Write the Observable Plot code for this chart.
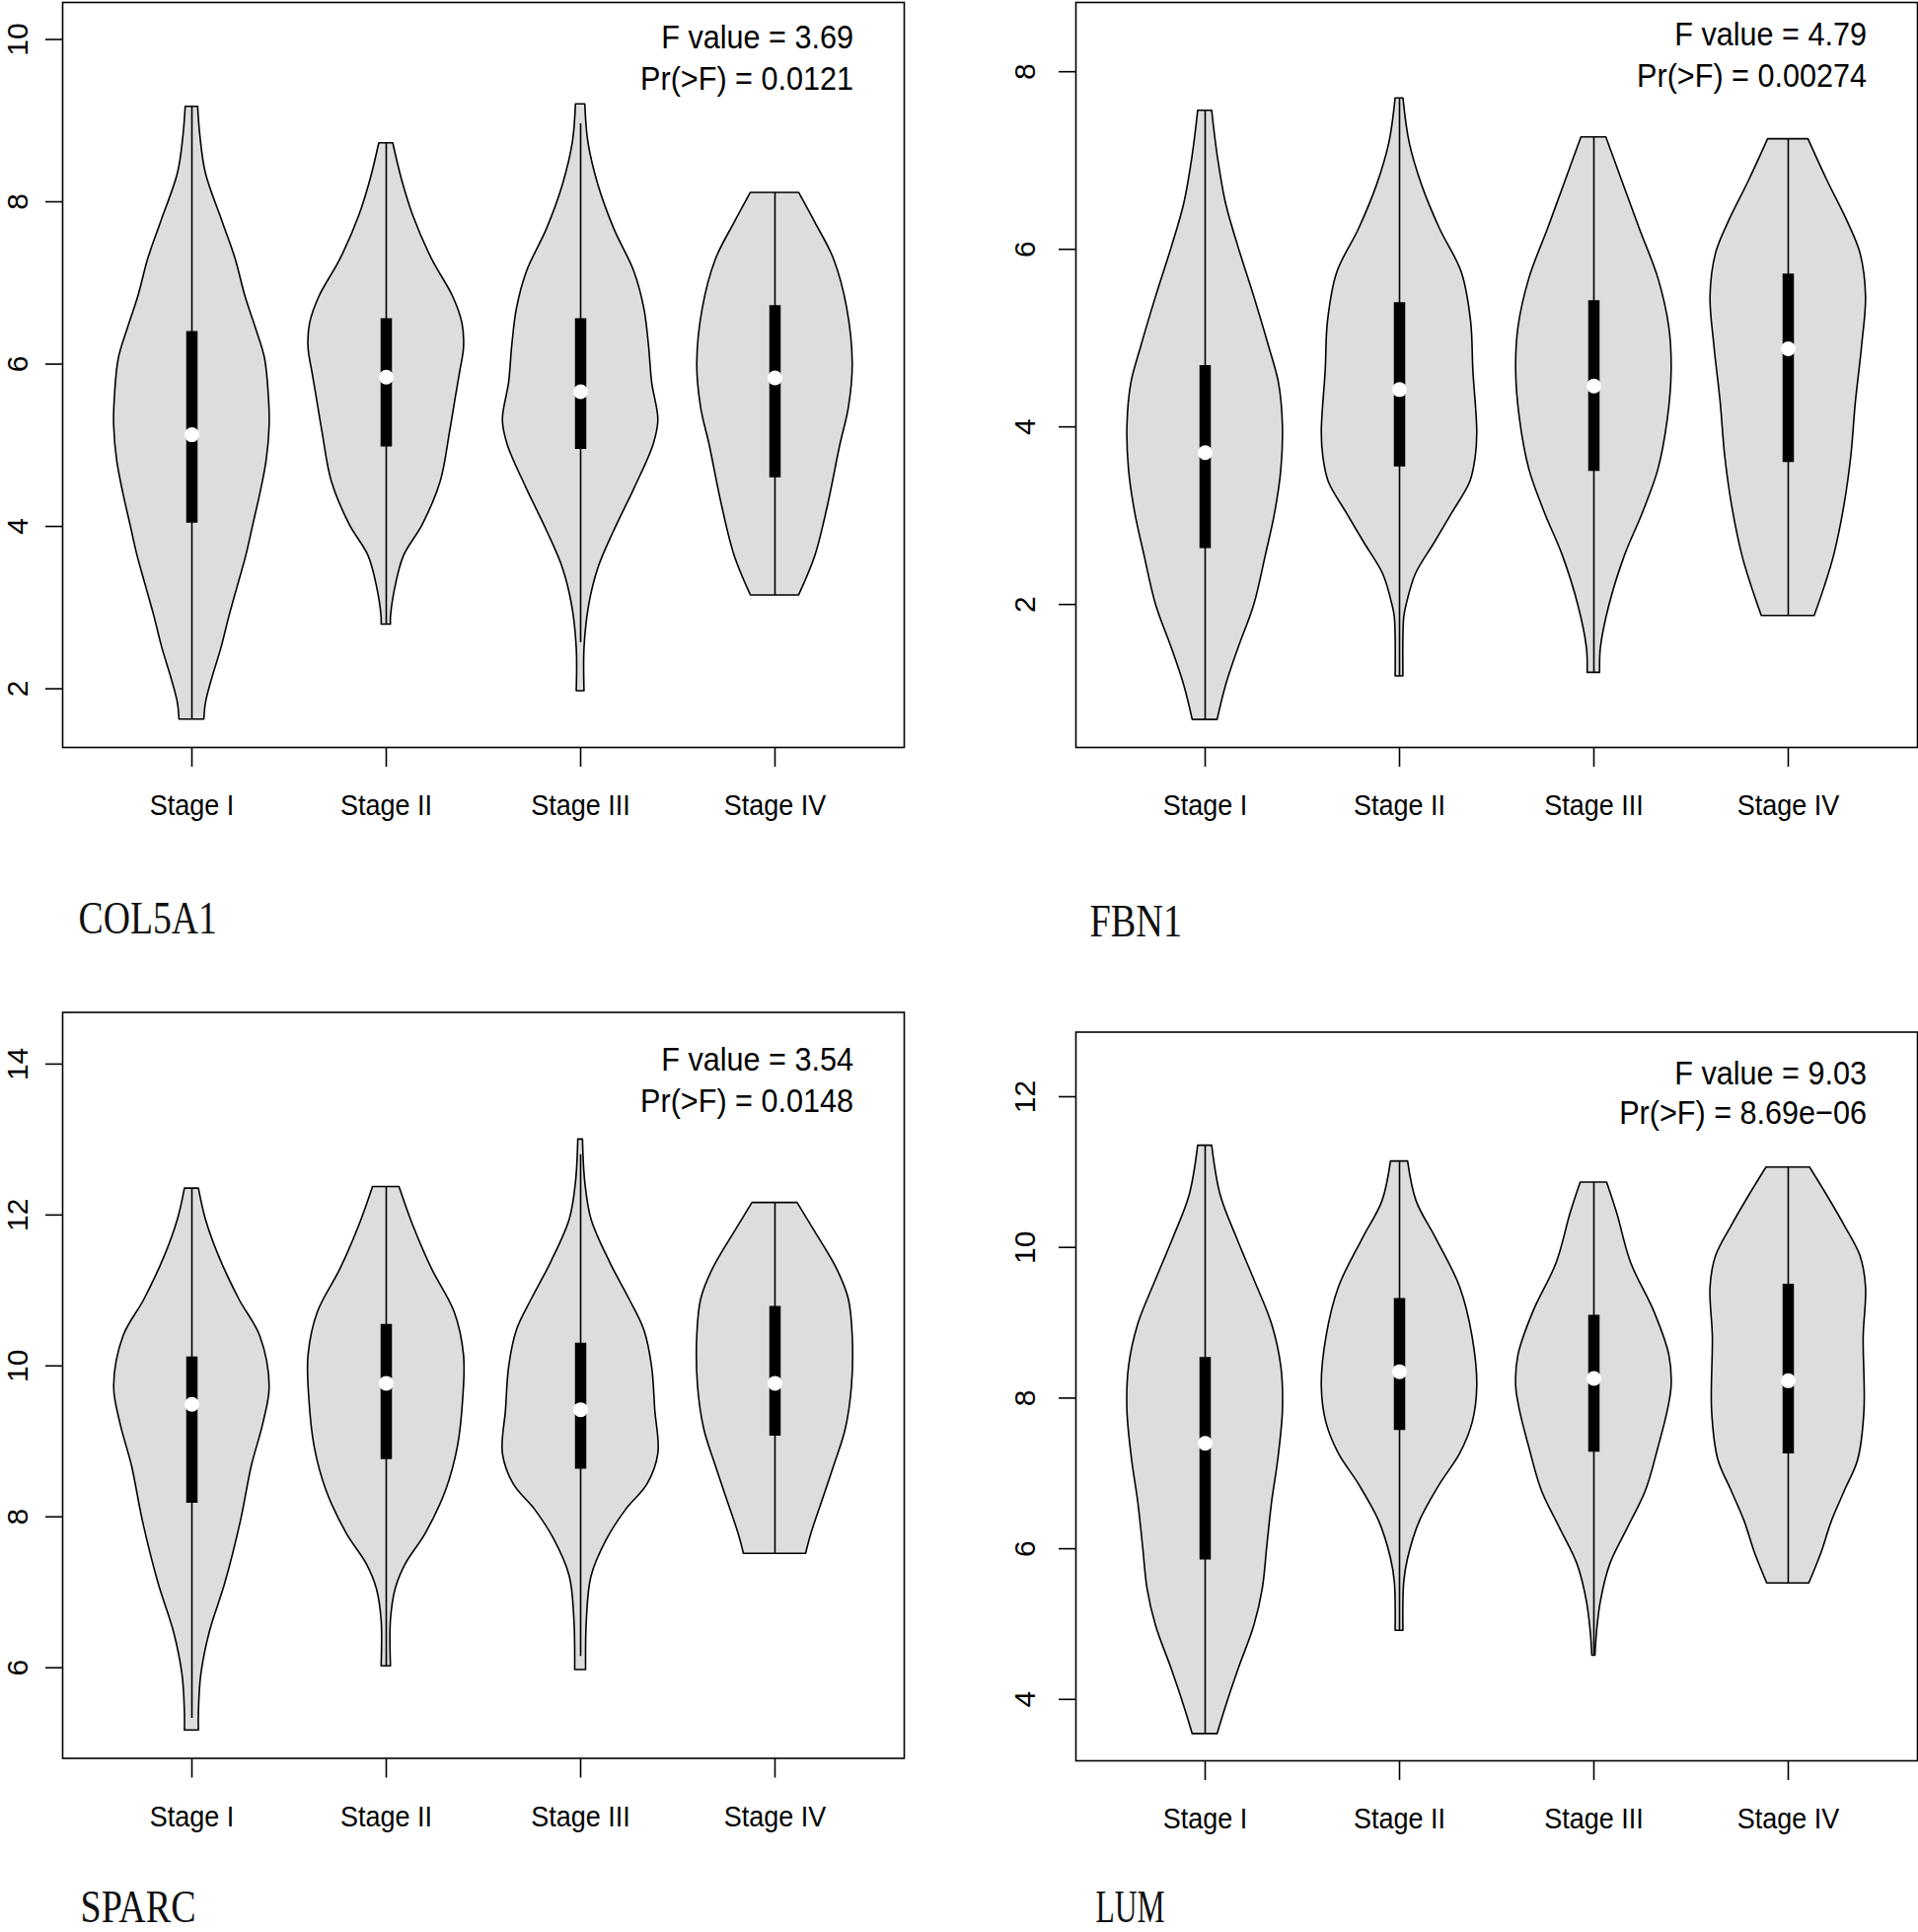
<!DOCTYPE html>
<html><head><meta charset="utf-8">
<script src="https://cdn.jsdelivr.net/npm/d3@7"></script>
<script src="https://cdn.jsdelivr.net/npm/@observablehq/plot@0.6"></script>
<style>
html,body{margin:0;padding:0;background:#fff;}
#grid{position:relative;width:1944px;height:1958px;overflow:hidden;background:#fff;}
.panel{position:absolute;width:972px;height:979px;}
</style></head><body><div id="grid"></div>
<script>
// ---------- data ----------
const stages = ["Stage I", "Stage II", "Stage III", "Stage IV"];
const genes = ["COL5A1", "FBN1", "SPARC", "LUM"];
const fValues = ["3.69", "4.79", "3.54", "9.03"];
const pValues = ["0.0121", "0.00274", "0.0148", "8.69e\u221206"];
const xLimits = [0.335, 4.665];

// y-axis limits and ticks per gene
const col5a1Limits = [1.277, 10.456];
const fbn1Limits = [0.39, 8.78];
const sparcLimits = [4.80, 14.685];
const lumLimits = [3.185, 12.858];
const col5a1Ticks = [2, 4, 6, 8, 10];
const fbn1Ticks = [2, 4, 6, 8];
const sparcTicks = [6, 8, 10, 12, 14];
const lumTicks = [4, 6, 8, 10, 12];

// violin profiles: [expression value, relative density (max = 1)] per stage
const col5a1Violin = [
  [[9.17,0.08],[8.8,0.11],[8.35,0.18],[7.74,0.40],[7.3,0.56],[6.83,0.69],[6.45,0.82],[6.07,0.94],[5.6,0.99],[5.24,1.0],[4.8,0.96],[4.4,0.88],[4.02,0.79],[3.64,0.70],[3.26,0.59],[2.88,0.48],[2.5,0.38],[2.12,0.26],[1.82,0.18],[1.62,0.16]],
  [[8.72,0.09],[8.28,0.20],[7.82,0.35],[7.29,0.59],[6.83,0.86],[6.5,0.98],[6.2,1.0],[5.9,0.95],[5.62,0.90],[5.16,0.82],[4.55,0.70],[4.02,0.47],[3.64,0.23],[3.26,0.12],[2.88,0.06],[2.79,0.06]],
  [[9.20,0.06],[8.73,0.10],[8.20,0.23],[7.67,0.43],[7.14,0.69],[6.68,0.82],[6.22,0.88],[5.77,0.92],[5.31,1.0],[5.01,0.94],[4.48,0.70],[3.94,0.43],[3.49,0.23],[3.03,0.11],[2.50,0.05],[1.97,0.05]],
  [[8.11,0.31],[7.74,0.52],[7.29,0.76],[6.68,0.93],[6.0,1.0],[5.46,0.95],[5.0,0.84],[4.25,0.68],[3.64,0.52],[3.15,0.31]]
];
const fbn1Violin = [
  [[7.56,0.09],[7.06,0.16],[6.51,0.27],[6.02,0.43],[5.47,0.63],[4.91,0.82],[4.49,0.95],[4.01,1.0],[3.52,0.98],[3.03,0.90],[2.55,0.78],[1.99,0.63],[1.51,0.43],[1.09,0.27],[0.70,0.16]],
  [[7.70,0.05],[7.20,0.13],[6.72,0.29],[6.23,0.52],[5.74,0.80],[5.19,0.92],[4.63,0.95],[3.94,1.0],[3.66,0.98],[3.38,0.91],[3.03,0.68],[2.69,0.45],[2.34,0.21],[1.99,0.09],[1.85,0.06],[1.19,0.05]],
  [[7.26,0.16],[6.78,0.36],[6.23,0.59],[5.67,0.83],[5.12,0.97],[4.63,1.0],[4.08,0.95],[3.52,0.83],[3.03,0.63],[2.55,0.40],[1.99,0.20],[1.51,0.09],[1.23,0.08]],
  [[7.24,0.26],[6.78,0.50],[6.30,0.77],[5.95,0.93],[5.47,1.0],[4.91,0.95],[4.28,0.87],[3.66,0.81],[3.10,0.72],[2.55,0.59],[2.20,0.47],[1.87,0.34]]
];
const sparcViolin = [
  [[12.35,0.09],[11.94,0.18],[11.45,0.35],[10.88,0.61],[10.39,0.88],[9.73,1.0],[9.24,0.92],[8.67,0.77],[7.94,0.63],[7.12,0.43],[6.47,0.23],[5.90,0.12],[5.4,0.09],[5.17,0.09]],
  [[12.37,0.17],[11.85,0.35],[11.28,0.59],[10.71,0.88],[10.14,1.0],[9.57,0.99],[8.92,0.92],[8.35,0.77],[7.78,0.51],[7.37,0.25],[7.04,0.12],[6.63,0.06],[6.02,0.06]],
  [[13.0,0.03],[12.43,0.06],[11.94,0.14],[11.37,0.38],[10.88,0.63],[10.47,0.82],[9.98,0.92],[9.41,0.96],[8.84,1.0],[8.43,0.86],[8.10,0.59],[7.70,0.34],[7.21,0.14],[6.63,0.08],[5.97,0.07]],
  [[12.16,0.29],[11.77,0.52],[11.28,0.80],[10.88,0.95],[10.39,1.0],[9.73,0.99],[9.16,0.91],[8.67,0.76],[8.18,0.60],[7.78,0.47],[7.51,0.40]]
];
const lumViolin = [
  [[11.35,0.09],[10.69,0.20],[10.12,0.41],[9.55,0.64],[8.98,0.86],[8.41,0.98],[7.83,1.0],[7.18,0.94],[6.61,0.86],[6.04,0.80],[5.46,0.74],[4.97,0.63],[4.40,0.43],[3.91,0.27],[3.54,0.16]],
  [[11.14,0.11],[10.61,0.22],[10.12,0.47],[9.47,0.78],[8.81,0.94],[8.16,1.0],[7.67,0.94],[7.26,0.78],[6.85,0.52],[6.36,0.26],[5.87,0.11],[5.55,0.06],[4.91,0.05]],
  [[10.86,0.17],[10.45,0.30],[9.79,0.48],[9.14,0.78],[8.57,0.97],[8.16,1.0],[7.83,0.95],[7.34,0.83],[6.77,0.67],[6.28,0.44],[5.79,0.21],[5.30,0.09],[4.89,0.04],[4.58,0.02]],
  [[11.06,0.28],[10.69,0.50],[10.28,0.73],[9.88,0.93],[9.47,1.0],[8.81,0.97],[7.83,0.98],[7.18,0.90],[6.77,0.73],[6.36,0.56],[5.95,0.43],[5.54,0.27]]
];

// box summaries per stage: [Q1, median, Q3, whisker low, whisker high]
const col5a1Box = [[4.04,5.13,6.40,1.62,9.17],[4.98,5.84,6.56,2.79,8.72],[4.95,5.66,6.56,2.57,8.96],[4.60,5.83,6.72,3.15,8.11]];
const fbn1Box = [[2.63,3.71,4.69,0.70,7.56],[3.55,4.42,5.40,1.19,7.70],[3.50,4.46,5.42,1.23,7.26],[3.60,4.88,5.72,1.87,7.24]];
const sparcBox = [[8.18,9.49,10.12,5.33,12.35],[8.76,9.77,10.55,6.02,12.37],[8.63,9.42,10.30,6.15,12.8],[9.07,9.77,10.79,7.51,12.16]];
const lumBox = [[5.85,7.40,8.54,3.54,11.35],[7.57,8.35,9.32,4.91,11.14],[7.28,8.26,9.10,4.58,10.86],[7.26,8.23,9.51,5.54,11.06]];

// ---------- layout (styles / positions only) ----------
const layouts = [
  {left: 0,   top: 0,   ml: 63,  mr: 56, mt: 2,    mb: 222,   f1: 35.6, f2: 78.1, gx: 16, gy: 174, yl: -45},
  {left: 972, top: 0,   ml: 118, mr: 1,  mt: 2,    mb: 222,   f1: 32.5, f2: 74.4, gx: 14, gy: 177, yl: -51},
  {left: 0,   top: 979, ml: 63,  mr: 56, mt: 46.5, mb: 176.5, f1: 48,   f2: 90,   gx: 18, gy: 151, yl: -45},
  {left: 972, top: 979, ml: 118, mr: 1,  mt: 66.5, mb: 174,   f1: 42,   f2: 82.3, gx: 20, gy: 148.5, yl: -51}
];

const panels = [
  {gene: genes[0], f: fValues[0], p: pValues[0], limits: col5a1Limits, ticks: col5a1Ticks, violin: col5a1Violin, box: col5a1Box},
  {gene: genes[1], f: fValues[1], p: pValues[1], limits: fbn1Limits, ticks: fbn1Ticks, violin: fbn1Violin, box: fbn1Box},
  {gene: genes[2], f: fValues[2], p: pValues[2], limits: sparcLimits, ticks: sparcTicks, violin: sparcViolin, box: sparcBox},
  {gene: genes[3], f: fValues[3], p: pValues[3], limits: lumLimits, ticks: lumTicks, violin: lumViolin, box: lumBox}
];

const HALF = 0.4;      // half-width of a violin at max density (x units)
const LW = 1.6;
const grid = document.getElementById("grid");

panels.forEach((pn, k) => {
  const L = layouts[k];
  const rows = [];
  pn.violin.forEach((prof, i) => prof.forEach(([v, d]) => rows.push({stage: i + 1, v, d})));
  const boxes = pn.box.map(([q1, med, q3, lo, hi], i) => ({stage: i + 1, q1, med, q3, lo, hi}));
  const chart = Plot.plot({
    width: 972, height: 979,
    marginLeft: L.ml, marginRight: L.mr, marginTop: L.mt, marginBottom: L.mb,
    x: {type: "linear", domain: xLimits},
    y: {type: "linear", domain: pn.limits},
    style: {fontFamily: "'Liberation Sans', Arial, sans-serif", background: "white", color: "black"},
    marks: [
      Plot.areaX(rows, {y: "v", x1: d => d.stage - HALF * d.d, x2: d => d.stage + HALF * d.d, z: "stage",
        fill: "#dddddd", stroke: "black", strokeWidth: LW, curve: "catmull-rom"}),
      Plot.ruleX(boxes, {x: "stage", y1: "lo", y2: "hi", stroke: "black", strokeWidth: LW}),
      Plot.ruleX(boxes, {x: "stage", y1: "q1", y2: "q3", stroke: "black", strokeWidth: 11.5}),
      Plot.dot(boxes, {x: "stage", y: "med", r: 7.5, fill: "white", stroke: null}),
      Plot.frame({stroke: "black", strokeWidth: LW}),
      Plot.axisX({ticks: [1, 2, 3, 4], tickSize: 20, tickFormat: () => "", label: null, strokeWidth: LW}),
      Plot.axisY({ticks: pn.ticks, tickSize: 17, tickFormat: () => "", label: null, strokeWidth: LW}),
      Plot.text(stages, {x: (d, i) => i + 1, text: d => d, frameAnchor: "bottom", dy: 59, fontSize: 30, lineAnchor: "middle", fill: "black"}),
      Plot.text(pn.ticks, {y: d => d, text: d => String(d), frameAnchor: "left", dx: L.yl, rotate: -90, fontSize: 30, lineAnchor: "middle", textAnchor: "middle", fill: "black"}),
      Plot.text([`F value = ${pn.f}`], {text: d => d, frameAnchor: "top-right", dx: -51.5, dy: L.f1, textAnchor: "end", lineAnchor: "middle", fontSize: 34, fill: "black"}),
      Plot.text([`Pr(>F) = ${pn.p}`], {text: d => d, frameAnchor: "top-right", dx: -51.5, dy: L.f2, textAnchor: "end", lineAnchor: "middle", fontSize: 34, fill: "black"}),
      Plot.text([pn.gene], {text: d => d, frameAnchor: "bottom-left", dx: L.gx, dy: L.gy, textAnchor: "start", lineAnchor: "middle",
        fontSize: 46, fontFamily: "'Liberation Serif', 'Times New Roman', serif", fill: "#111"})
    ]
  });
  const wrap = document.createElement("div");
  wrap.className = "panel";
  wrap.style.left = L.left + "px";
  wrap.style.top = L.top + "px";
  wrap.appendChild(chart);
  grid.appendChild(wrap);

  // typographic tweaks: narrow sans text, fixed-pitch serif gene labels
  d3.select(chart).selectAll("text").each(function () {
    const g = this.closest("[font-family]");
    const fam = g ? g.getAttribute("font-family") : "";
    if (fam && fam.includes("Serif")) {
      this.setAttribute("textLength", this.textContent.length * 23.4);
      this.setAttribute("lengthAdjust", "spacingAndGlyphs");
      return;
    }
    const t = this.getAttribute("transform");
    if (t && t.includes("rotate")) return;
    if (t) this.setAttribute("transform", t + " scale(0.9,1)");
    else {
      const x = +this.getAttribute("x") || 0;
      this.setAttribute("transform", `translate(${x},0) scale(0.9,1) translate(${-x},0)`);
    }
  });
});
</script></body></html>
